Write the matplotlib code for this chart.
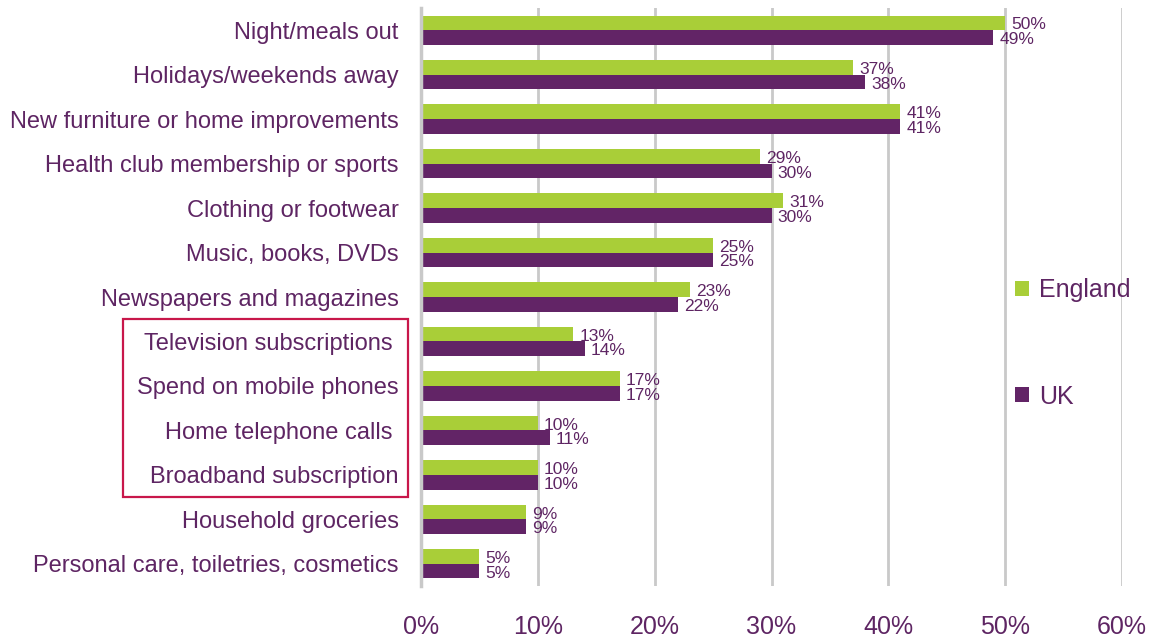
import numpy as np
import matplotlib.pyplot as plt
from matplotlib.patches import Rectangle
from matplotlib.transforms import blended_transform_factory

categories = [
    "Night/meals out",
    "Holidays/weekends away",
    "New furniture or home improvements",
    "Health club membership or sports",
    "Clothing or footwear",
    "Music, books, DVDs",
    "Newspapers and magazines",
    "Television subscriptions ",
    "Spend on mobile phones",
    "Home telephone calls ",
    "Broadband subscription",
    "Household groceries",
    "Personal care, toiletries, cosmetics",
]
england = [50, 37, 41, 29, 31, 25, 23, 13, 17, 10, 10, 9, 5]
uk = [49, 38, 41, 30, 30, 25, 22, 14, 17, 11, 10, 9, 5]
x_ticks = [0, 10, 20, 30, 40, 50, 60]
boxed_rows = (7, 10)  # telecoms rows

GREEN = "#A9CE38"
PURPLE = "#622466"
TEXT = "#5E2563"
GRID = "#C9C9C9"
narrow = ["Liberation Sans Narrow", "Liberation Sans", "DejaVu Sans"]
plt.rcParams["font.family"] = ["Liberation Sans", "DejaVu Sans"]

fig = plt.figure(figsize=(11.56, 6.39), dpi=100)
ax = fig.add_axes([0.3642, 0.0829, 0.6064, 0.9046])

y = np.arange(len(categories))
h = 0.33
ax.barh(y - h / 2, england, height=h, color=GREEN, label="England", zorder=3)
ax.barh(y + h / 2, uk, height=h, color=PURPLE, label="UK", zorder=3)

for yi, e, u in zip(y, england, uk):
    ax.annotate(f"{e}%", (e, yi - h / 2), xytext=(4.5, -1.5), textcoords="offset points",
                va="center", ha="left", fontsize=12.5, color=TEXT, family=narrow)
    ax.annotate(f"{u}%", (u, yi + h / 2), xytext=(4.5, -1.5), textcoords="offset points",
                va="center", ha="left", fontsize=12.5, color=TEXT, family=narrow)

ax.set_ylim(len(categories) - 0.5, -0.5)
ax.set_xlim(0, 60)
ax.set_yticks(y)
ax.set_yticklabels(categories, fontsize=17, color=TEXT)
ax.set_xticks(x_ticks)
ax.set_xticklabels([f"{t}%" for t in x_ticks], fontsize=18, color=TEXT, family=narrow)
ax.tick_params(axis="y", length=0, pad=16)
ax.tick_params(axis="x", length=0, pad=21)

ax.grid(axis="x", color=GRID, linewidth=2, zorder=0)
for s in ["top", "right", "bottom"]:
    ax.spines[s].set_visible(False)
ax.spines["left"].set_color(GRID)
ax.spines["left"].set_linewidth(2.5)
ax.spines["left"].set_zorder(4)

# red outline around the telecoms categories
trans = blended_transform_factory(ax.transAxes, ax.transData)
r0, r1 = boxed_rows
box = Rectangle((-0.425, r0 - 0.5), 0.406, (r1 - r0) + 1, transform=trans,
                fill=False, edgecolor="#C8174A", linewidth=1.6, clip_on=False)
ax.add_patch(box)

leg = ax.legend(loc="center left", bbox_to_anchor=(0.833, 0.42), frameon=False,
                fontsize=18, labelspacing=3.3, handlelength=0.55, handleheight=0.55,
                handletextpad=0.4, borderaxespad=0)
for t in leg.get_texts():
    t.set_color(TEXT)

fig.savefig("out.png", dpi=100)
